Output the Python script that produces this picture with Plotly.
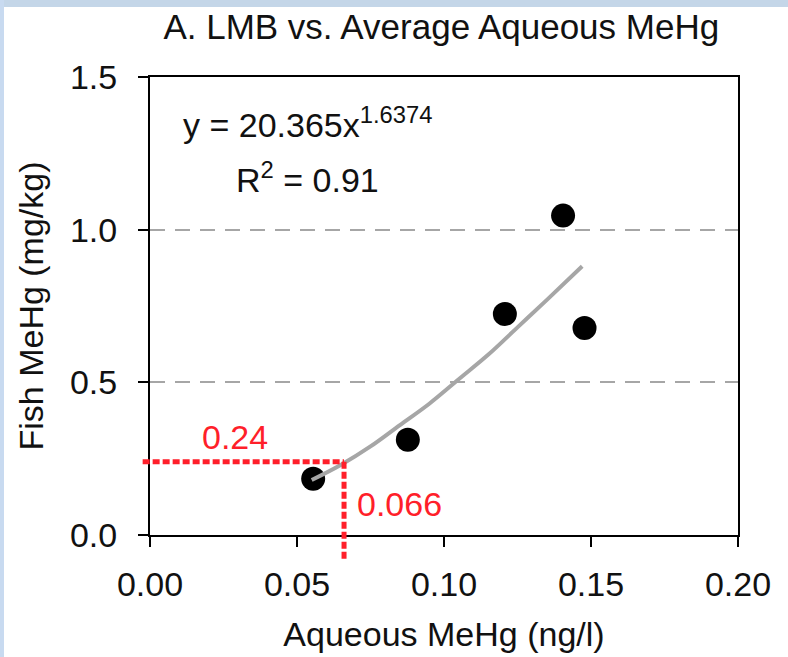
import plotly.graph_objects as go

# Data
aq_mehg = [0.0555, 0.0877, 0.1207, 0.1405, 0.1478]
fish_mehg = [0.184, 0.312, 0.724, 1.046, 0.678]

trend_x = [0.055, 0.065, 0.075, 0.085, 0.095, 0.105, 0.115, 0.125, 0.135, 0.147]
trend_y = [0.18, 0.23, 0.29, 0.36, 0.43, 0.51, 0.59, 0.68, 0.77, 0.88]

target_y = 0.24
target_x = 0.066

x_range = [0, 0.2]
y_range = [0, 1.5]
x_ticks = [0.00, 0.05, 0.10, 0.15, 0.20]
y_ticks = [0.0, 0.5, 1.0, 1.5]

title_text = "A. LMB vs. Average Aqueous MeHg"
eq_text = "y = 20.365x<sup>1.6374</sup>"
r2_text = "R<sup>2</sup> = 0.91"

FONT = "Liberation Sans, Arial, sans-serif"
RED = "#ff1f2a"
GRAY = "#a6a6a6"


def to_paper_x(v):
    return (v - x_range[0]) / (x_range[1] - x_range[0])


def to_paper_y(v):
    return (v - y_range[0]) / (y_range[1] - y_range[0])


fig = go.Figure()

fig.add_trace(go.Scatter(
    x=aq_mehg, y=fish_mehg, mode="markers",
    marker=dict(size=24, color="black"),
    showlegend=False, hoverinfo="skip",
))
fig.add_trace(go.Scatter(
    x=trend_x, y=trend_y, mode="lines",
    line=dict(color=GRAY, width=4, shape="spline"),
    showlegend=False, hoverinfo="skip",
))

# red dotted guide lines (one axis ref in paper so they may extend past the axes)
fig.add_shape(type="line", xref="paper", yref="y",
              x0=to_paper_x(-0.0025), x1=to_paper_x(target_x), y0=target_y, y1=target_y,
              line=dict(color=RED, width=5, dash="7px,3px"), layer="above")
fig.add_shape(type="line", xref="x", yref="paper",
              x0=target_x, x1=target_x, y0=to_paper_y(target_y), y1=to_paper_y(-0.082),
              line=dict(color=RED, width=5, dash="7px,3px"), layer="above")

# decorative light-blue border strips
fig.add_shape(type="rect", xref="paper", yref="paper",
              x0=-150/588, x1=1 + 50/588, y0=1 + 70/458, y1=1 + 77/458,
              line=dict(width=0), fillcolor="#c4d6e8", layer="below")
fig.add_shape(type="rect", xref="paper", yref="paper",
              x0=-150/588, x1=-146/588, y0=-122/458, y1=1 + 77/458,
              line=dict(width=0), fillcolor="#c8daf0", layer="below")

fig.add_annotation(x=0.0537, y=1.352, xref="x", yref="y", text=eq_text,
                   showarrow=False, font=dict(family=FONT, size=34, color="#111"),
                   xanchor="center", yanchor="middle")
fig.add_annotation(x=0.0537, y=1.17, xref="x", yref="y", text=r2_text,
                   showarrow=False, font=dict(family=FONT, size=34, color="#111"),
                   xanchor="center", yanchor="middle")
fig.add_annotation(x=0.0289, y=0.322, xref="x", yref="y", text=str(target_y),
                   showarrow=False, font=dict(family=FONT, size=34, color=RED),
                   xanchor="center", yanchor="middle")
fig.add_annotation(x=0.085, y=0.102, xref="x", yref="y", text=str(target_x),
                   showarrow=False, font=dict(family=FONT, size=34, color=RED),
                   xanchor="center", yanchor="middle")

axis_common = dict(
    showline=True, linecolor="black", linewidth=2, mirror=True,
    ticks="outside", ticklen=10, tickwidth=2, tickcolor="black",
    zeroline=False, automargin=False,
    tickfont=dict(family=FONT, size=34, color="#111"),
)

fig.update_xaxes(
    range=x_range, tickvals=x_ticks, tickformat=".2f",
    showgrid=False, ticklabelstandoff=8,
    title=dict(text="Aqueous MeHg (ng/l)", font=dict(family=FONT, size=34, color="#111"), standoff=20),
    **axis_common,
)
fig.update_yaxes(
    range=y_range, tickvals=y_ticks, tickformat=".1f",
    showgrid=True, gridcolor=GRAY, gridwidth=2, griddash="15px,10px",
    ticklabelstandoff=14,
    title=dict(text="Fish MeHg (mg/kg)", font=dict(family=FONT, size=34, color="#111"), standoff=16),
    **axis_common,
)

fig.update_layout(
    width=788, height=657,
    margin=dict(l=150, r=50, t=77, b=122, autoexpand=False),
    paper_bgcolor="white", plot_bgcolor="white",
    title=dict(text=title_text, x=0.56, xanchor="center", y=1 - 27/657, yanchor="middle",
               font=dict(family=FONT, size=35, color="#111")),
    showlegend=False,
)

fig.write_html("out.html", config={"displayModeBar": False},
               post_script="document.body.style.margin='0';document.body.style.overflow='hidden';")
